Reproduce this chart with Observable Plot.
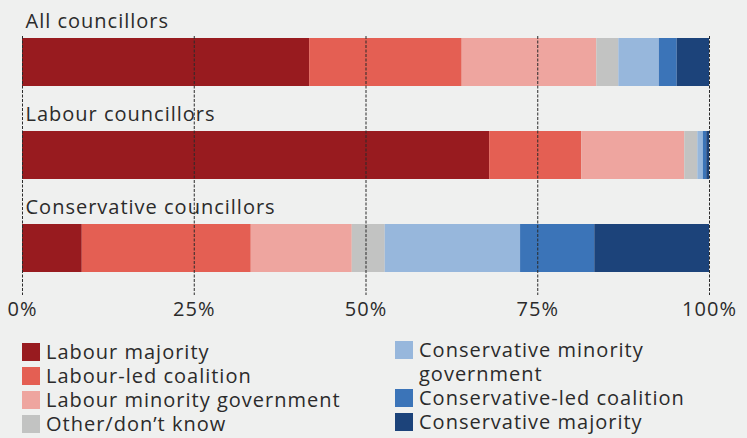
<!DOCTYPE html>
<html>
<head>
<meta charset="utf-8">
<script src="https://cdn.jsdelivr.net/npm/d3@7"></script>
<script src="https://cdn.jsdelivr.net/npm/@observablehq/plot@0.6"></script>
<style>
  html, body { margin: 0; padding: 0; background: #eff0ef; }
  body { width: 747px; height: 438px; overflow: hidden; font-family: "Open Sans", sans-serif; color: #2b2b2b; }
  #legend { display: flex; margin-top: 2px; }
  .col { display: flex; flex-direction: column; }
  .col1 { margin-left: 22px; width: 373px; }
  .col2 { margin-top: -2px; }
  .item { display: flex; align-items: flex-start; font-size: 20px; line-height: 24px; letter-spacing: 1px; }
  .sw { width: 18px; height: 18px; margin-top: 3px; margin-right: 6px; flex: none; }
  .lbl { max-width: 310px; display: block; }
</style>
</head>
<body>
<div id="chart"></div>
<div id="legend"></div>
<script>
const groups = ["All councillors", "Labour councillors", "Conservative councillors"];
const categories = [
  "Labour majority",
  "Labour-led coalition",
  "Labour minority government",
  "Other/don’t know",
  "Conservative minority government",
  "Conservative-led coalition",
  "Conservative majority"
];
const allValues = [41.8, 22.2, 19.6, 3.2, 5.9, 2.6, 4.7];
const labourValues = [68.0, 13.4, 15.0, 1.9, 0.8, 0.5, 0.4];
const conservativeValues = [8.7, 24.6, 14.7, 4.8, 19.7, 10.8, 16.7];
const colors = ["#981b1f", "#e45f53", "#eea59f", "#c2c3c2", "#97b7dc", "#3b74b8", "#1c437a"];
const tickValues = [0, 25, 50, 75, 100];
const tickLabels = ["0%", "25%", "50%", "75%", "100%"];

const seriesByGroup = [allValues, labourValues, conservativeValues];
const data = [];
groups.forEach((g, gi) => {
  categories.forEach((c, ci) => data.push({group: g, category: c, value: seriesByGroup[gi][ci]}));
});

const chart = Plot.plot({
  width: 747,
  height: 338,
  marginLeft: 22,
  marginRight: 38,
  marginTop: 36,
  marginBottom: 43,
  style: {background: "transparent", fontFamily: "'Open Sans', sans-serif", color: "#2b2b2b", overflow: "visible", letterSpacing: "1px"},
  x: {domain: [0, 100], label: null},
  y: {domain: groups, range: [37, 274], paddingInner: 0.4787, paddingOuter: 0, axis: null},
  color: {domain: categories, range: colors},
  marks: [
    Plot.barX(data, Plot.stackX({x: "value", y: "group", fill: "category", order: categories})),
    Plot.ruleX(tickValues, {stroke: "#2b2b2b", strokeWidth: 1, strokeDasharray: "3,1.5"}),
    Plot.text(groups, {x: 0, y: d => d, text: d => d, textAnchor: "start", dx: 3, dy: -41, fontSize: 20, fill: "#2b2b2b"}),
    Plot.axisX({ticks: tickValues, tickFormat: d => tickLabels[tickValues.indexOf(d)], tickSize: 0, tickPadding: 6, fontSize: 20, fill: "#2b2b2b", label: null})
  ]
});
document.getElementById("chart").appendChild(chart);

const legend = document.getElementById("legend");
const cols = [categories.slice(0, 4), categories.slice(4)];
cols.forEach((list, k) => {
  const col = document.createElement("div");
  col.className = "col col" + (k + 1);
  list.forEach(c => {
    const item = document.createElement("div");
    item.className = "item";
    const sw = document.createElement("span");
    sw.className = "sw";
    sw.style.background = colors[categories.indexOf(c)];
    const lbl = document.createElement("span");
    lbl.className = "lbl";
    lbl.textContent = c;
    item.appendChild(sw);
    item.appendChild(lbl);
    col.appendChild(item);
  });
  legend.appendChild(col);
});
</script>
</body>
</html>
